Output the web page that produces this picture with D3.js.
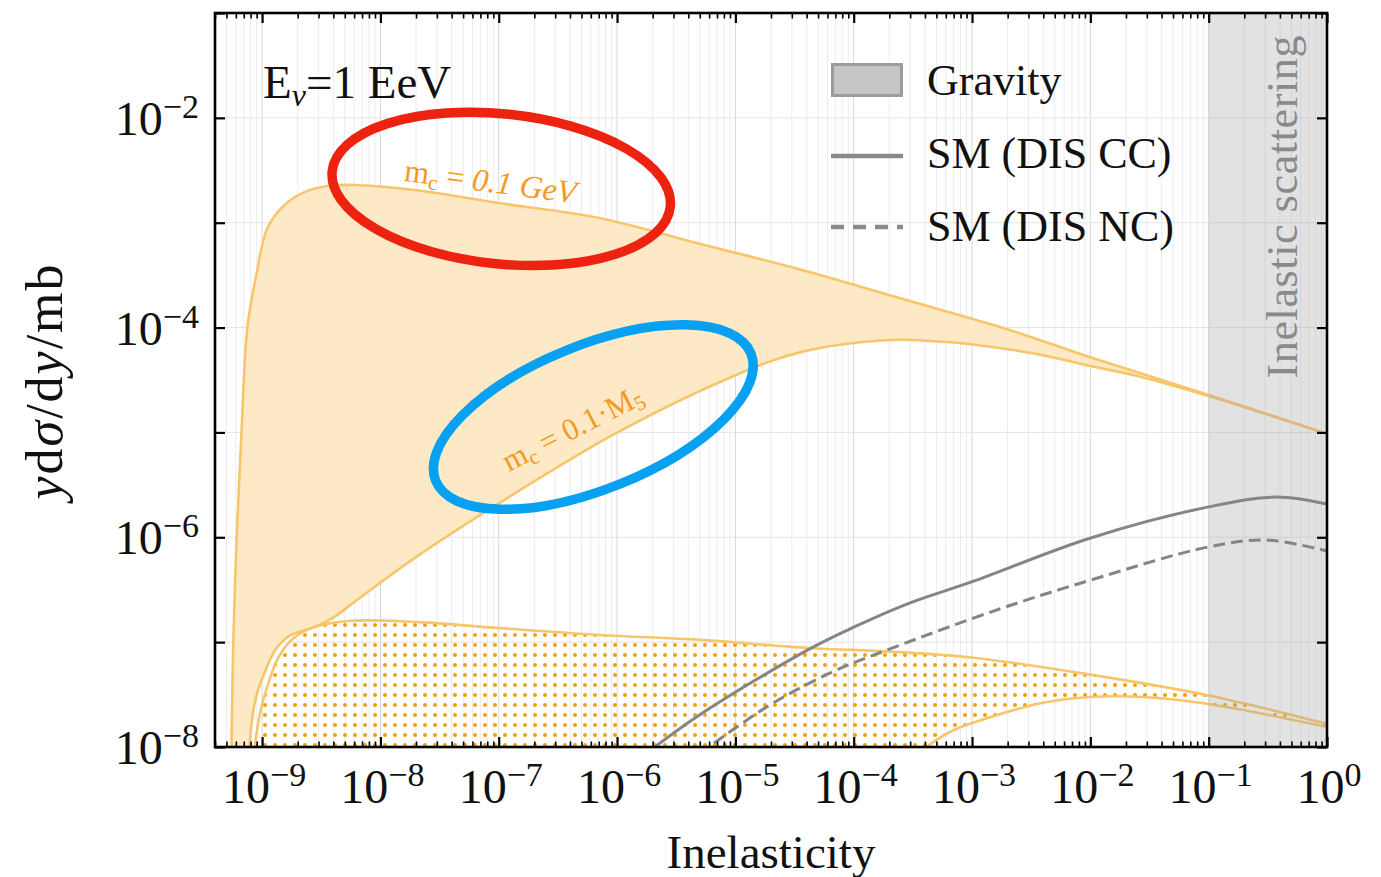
<!DOCTYPE html>
<html>
<head>
<meta charset="utf-8">
<script src="https://cdn.jsdelivr.net/npm/d3@7"></script>
<style>
  body { margin: 0; background: #fff; }
  svg text { font-family: "Liberation Serif", "DejaVu Serif", serif; }
</style>
</head>
<body>
<svg id="chart" width="1381" height="877"></svg>
<script>
// values: [inelasticity, y dsigma/dy in mb]
const gravUpper = [ // m_c = 0.1 GeV
    [5.5e-10, 9.3e-9], [5.7e-10, 9.0e-8], [6.1e-10, 9.8e-7], [6.7e-10, 9.9e-6],
    [7.5e-10, 9.9e-5], [8.95e-10, 3.2e-4], [1.11e-9, 8.9e-4], [1.55e-9, 1.48e-3],
    [2.28e-9, 1.96e-3], [3.56e-9, 2.24e-3], [6.0e-9, 2.29e-3], [1.94e-8, 2.05e-3],
    [1.01e-7, 1.54e-3], [7.1e-7, 1.11e-3], [4.97e-6, 6.3e-4], [3.48e-5, 3.6e-4],
    [2.44e-4, 1.91e-4], [2.07e-3, 9.5e-5], [1.0e-2, 5.2e-5], [0.1, 2.28e-5], [1, 9.7e-6]
];
const gravLower = [ // m_c = 0.1 M5
    [7.8e-10, 9.3e-9], [8.3e-10, 1.98e-8], [9.1e-10, 3.3e-8], [1.07e-9, 5.4e-8],
    [1.29e-9, 8.4e-8], [1.70e-9, 1.15e-7], [2.77e-9, 1.39e-7], [4.08e-9, 1.74e-7],
    [6.0e-9, 2.41e-7], [2.01e-8, 6.5e-7], [1.01e-7, 2.12e-6], [9.9e-7, 9.9e-6],
    [9.4e-6, 3.4e-5], [3.5e-5, 5.8e-5], [2.04e-4, 7.6e-5], [4.8e-4, 7.4e-5],
    [1.01e-3, 6.9e-5], [3.5e-3, 5.6e-5], [1.0e-2, 4.3e-5], [2.5e-2, 3.45e-5],
    [0.1, 2.22e-5], [1, 9.7e-6]
];
const dotUpper = [
    [8.6e-10, 9.3e-9], [9.5e-10, 1.98e-8], [1.11e-9, 3.8e-8], [1.35e-9, 6.9e-8],
    [1.77e-9, 1.05e-7], [2.61e-9, 1.36e-7], [5.3e-9, 1.59e-7], [1.94e-8, 1.56e-7],
    [1.01e-7, 1.36e-7], [7.1e-7, 1.17e-7], [4.97e-6, 1.05e-7], [4.15e-5, 8.8e-8],
    [2.13e-4, 8.1e-8], [1.03e-3, 7.1e-8], [1.0e-2, 4.9e-8], [0.1, 3.1e-8], [1, 1.66e-8]
];
const dotLower = [
    [3.6e-4, 9.0e-9], [6.5e-4, 1.39e-8], [1.2e-3, 1.81e-8], [3.9e-3, 2.63e-8],
    [1.0e-2, 3.0e-8], [2.77e-2, 3.0e-8], [0.1, 2.57e-8], [1, 1.55e-8]
];
const smCC = [
    [1.7e-6, 8.4e-9], [4.97e-6, 2.02e-8], [4.06e-5, 8.4e-8],
    [1.0e-4, 1.39e-7], [2.96e-4, 2.36e-7], [9.9e-4, 3.75e-7], [9.9e-3, 9.8e-7],
    [0.1, 1.95e-6], [0.376, 2.42e-6], [1, 2.07e-6]
];
const smNC = [
    [4.97e-6, 8.6e-9], [1.83e-5, 2.4e-8], [6.6e-5, 5.2e-8], [2.13e-4, 8.8e-8],
    [1.71e-3, 2.07e-7], [1.0e-2, 3.9e-7], [0.1, 8.1e-7], [0.31, 9.4e-7], [1, 7.4e-7]
];
const xDecades = [-9, -8, -7, -6, -5, -4, -3, -2, -1, 0];
const yDecades = [-8, -7, -6, -5, -4, -3, -2, -1];
const yLabelled = [-8, -6, -4, -2];
const inelastic = [0.1, 1];
const legendNames = ["Gravity", "SM (DIS CC)", "SM (DIS NC)"];
const rings = [
    { at: [1.05e-7, 2.1e-3], rx: 170, ry: 75, angle: 6, color: "#ee2211" },
    { at: [6.3e-7, 1.4e-5], rx: 170, ry: 72, angle: -22, color: "#08a0f0" }
];

const box = { left: 215, right: 1327, top: 13, bottom: 747 };
const orange = "#f8c56b", orangeText = "#f39a23", grey = "#858585";

const x = d3.scaleLog().domain([4e-10, 1]).range([box.left, box.right]);
const y = d3.scaleLog().domain([1e-8, 1e-1]).range([box.bottom, box.top]);

const svg = d3.select("#chart");
const defs = svg.append("defs");
defs.append("clipPath").attr("id", "plotclip")
    .append("rect")
    .attr("x", box.left).attr("y", box.top)
    .attr("width", box.right - box.left).attr("height", box.bottom - box.top);

defs.append("pattern").attr("id", "dots")
    .attr("patternUnits", "userSpaceOnUse").attr("width", 10).attr("height", 10)
    .append("circle").attr("cx", 5).attr("cy", 5).attr("r", 2).attr("fill", "#f5a00a");

// grid
const xMinor = d3.range(-10, 1).flatMap(k => d3.range(1, 10).map(m => m * Math.pow(10, k)))
    .filter(v => v >= 4e-10 && v <= 1.0001);
const grid = svg.append("g");
grid.selectAll(".vx").data(xMinor).enter().append("line")
    .attr("x1", d => x(d)).attr("x2", d => x(d))
    .attr("y1", box.top).attr("y2", box.bottom)
    .attr("stroke", d => Math.abs(Math.log10(d) % 1) < 1e-6 ? "#d6d6d6" : "#ececec")
    .attr("stroke-width", 1);
grid.selectAll(".hy").data(yDecades).enter().append("line")
    .attr("x1", box.left).attr("x2", box.right)
    .attr("y1", d => y(Math.pow(10, d))).attr("y2", d => y(Math.pow(10, d)))
    .attr("stroke", "#e4e4e4").attr("stroke-width", 1);

const line = d3.line().x(d => x(d[0])).y(d => y(d[1])).curve(d3.curveCatmullRom.alpha(0.5));
function bandPath(top, bottom) {
    const a = line(top), b = line(bottom.slice().reverse());
    return a + "L" + b.slice(1) + "Z";
}

const plot = svg.append("g").attr("clip-path", "url(#plotclip)");

plot.append("path").attr("d", bandPath(gravUpper, gravLower))
    .attr("fill", "#fde9c6").attr("stroke", "none");
plot.append("path").attr("d", bandPath(dotUpper, dotLower))
    .attr("fill", "url(#dots)").attr("stroke", "none");

[gravUpper, gravLower, dotUpper, dotLower].forEach(c => {
    plot.append("path").attr("d", line(c))
        .attr("fill", "none").attr("stroke", orange).attr("stroke-width", 2.6);
});

plot.append("rect")
    .attr("x", x(inelastic[0])).attr("width", x(inelastic[1]) - x(inelastic[0]))
    .attr("y", box.top).attr("height", box.bottom - box.top)
    .attr("fill", "#9e9e9e").attr("opacity", 0.3);

plot.append("path").attr("d", line(smCC))
    .attr("fill", "none").attr("stroke", grey).attr("stroke-width", 3);
plot.append("path").attr("d", line(smNC))
    .attr("fill", "none").attr("stroke", grey).attr("stroke-width", 3)
    .attr("stroke-dasharray", "12,6");

svg.append("text")
    .attr("transform", "translate(1297,207) rotate(-90)")
    .attr("text-anchor", "middle").attr("font-size", 44)
    .attr("fill", "#8a8a8a").attr("textLength", 343).attr("lengthAdjust", "spacing")
    .text("Inelastic scattering");

// curve labels
const l1 = svg.append("text")
    .attr("transform", `translate(${x(8.3e-8)},${y(1.96e-3)}) rotate(7.5)`)
    .attr("text-anchor", "middle").attr("font-size", 32).attr("fill", orangeText);
l1.append("tspan").text("m");
l1.append("tspan").attr("font-size", 21).attr("dy", 5).text("c");
l1.append("tspan").attr("dy", -5).text(" = ");
l1.append("tspan").attr("font-style", "italic").text("0.1 GeV");

const l2 = svg.append("text")
    .attr("transform", `translate(${x(4.6e-7)},${y(9.0e-6)}) rotate(-27)`)
    .attr("text-anchor", "middle").attr("font-size", 31).attr("fill", orangeText);
l2.append("tspan").text("m");
l2.append("tspan").attr("font-size", 21).attr("dy", 5).text("c");
l2.append("tspan").attr("dy", -5).text(" = 0.1·M");
l2.append("tspan").attr("font-size", 21).attr("dy", 5).text("5");

// hand-drawn rings
svg.selectAll(".ring").data(rings).enter().append("ellipse")
    .attr("transform", d => `translate(${x(d.at[0])},${y(d.at[1])}) rotate(${d.angle})`)
    .attr("rx", d => d.rx).attr("ry", d => d.ry)
    .attr("fill", "none").attr("stroke", d => d.color).attr("stroke-width", 9.5);

// frame and ticks
const xMajor = xDecades.map(k => Math.pow(10, k));
const xMinorOnly = xMinor.filter(v => !xMajor.some(m => Math.abs(v / m - 1) < 1e-6));
const yMajor = yDecades.map(k => Math.pow(10, k));
const noLabel = () => "";

const axes = [
    [d3.axisBottom(x).tickValues(xMajor).tickSize(-10), `translate(0,${box.bottom})`, 2.2],
    [d3.axisBottom(x).tickValues(xMinorOnly).tickSize(-5.5), `translate(0,${box.bottom})`, 1.6],
    [d3.axisTop(x).tickValues(xMajor).tickSize(-10), `translate(0,${box.top})`, 2.2],
    [d3.axisTop(x).tickValues(xMinorOnly).tickSize(-5.5), `translate(0,${box.top})`, 1.6],
    [d3.axisLeft(y).tickValues(yMajor).tickSize(-10), `translate(${box.left},0)`, 2.2],
    [d3.axisRight(y).tickValues(yMajor).tickSize(-10), `translate(${box.right},0)`, 2.2]
];
axes.forEach(([ax, tr, w]) => {
    const g = svg.append("g").attr("transform", tr).call(ax.tickFormat(noLabel));
    g.select(".domain").remove();
    g.selectAll(".tick line").attr("stroke", "#000").attr("stroke-width", w);
});

svg.append("rect")
    .attr("x", box.left).attr("y", box.top)
    .attr("width", box.right - box.left).attr("height", box.bottom - box.top)
    .attr("fill", "none").attr("stroke", "#000").attr("stroke-width", 2.6);

// tick labels
xDecades.forEach(k => {
    const t = svg.append("text")
        .attr("x", x(Math.pow(10, k)) + 2).attr("y", 803)
        .attr("text-anchor", "middle").attr("font-size", 48).attr("fill", "#111");
    t.append("tspan").text("10");
    t.append("tspan").attr("dy", -17).attr("font-size", 34).text(k === 0 ? "0" : "\u2212" + (-k));
});
yLabelled.forEach(k => {
    const t = svg.append("text")
        .attr("x", 199).attr("y", y(Math.pow(10, k)) + 17)
        .attr("text-anchor", "end").attr("font-size", 48).attr("fill", "#111");
    t.append("tspan").text("10");
    t.append("tspan").attr("dy", -17).attr("font-size", 34).text("\u2212" + (-k));
});

// axis titles
svg.append("text")
    .attr("x", (box.left + box.right) / 2).attr("y", 868)
    .attr("text-anchor", "middle").attr("font-size", 47).attr("fill", "#111")
    .text("Inelasticity");

const yl = svg.append("text")
    .attr("transform", "translate(62,382) rotate(-90)")
    .attr("text-anchor", "middle").attr("font-size", 52).attr("fill", "#111")
    .attr("textLength", 235).attr("lengthAdjust", "spacing");
yl.append("tspan").attr("font-style", "italic").text("y");
yl.append("tspan").text("d");
yl.append("tspan").attr("font-style", "italic").text("σ");
yl.append("tspan").text("/d");
yl.append("tspan").attr("font-style", "italic").text("y");
yl.append("tspan").text("/mb");

const ev = svg.append("text").attr("x", 263).attr("y", 98)
    .attr("font-size", 47).attr("fill", "#111");
ev.append("tspan").text("E");
ev.append("tspan").attr("font-size", 32).attr("font-style", "italic").attr("dy", 8).text("ν");
ev.append("tspan").attr("dy", -8).text("=1 EeV");

// legend
const lg = svg.append("g");
lg.append("rect").attr("x", 832.5).attr("y", 64.5).attr("width", 69).attr("height", 31)
    .attr("fill", "#c6c6c6").attr("stroke", "#9c9c9c").attr("stroke-width", 3);
lg.append("line").attr("x1", 831).attr("x2", 903).attr("y1", 156).attr("y2", 156)
    .attr("stroke", "#8a8a8a").attr("stroke-width", 4.5);
lg.append("line").attr("x1", 831).attr("x2", 903).attr("y1", 227).attr("y2", 227)
    .attr("stroke", "#8a8a8a").attr("stroke-width", 4.5).attr("stroke-dasharray", "13,9");
lg.selectAll(".lt").data(legendNames).enter().append("text")
    .attr("x", 927).attr("y", (d, i) => 95 + i * 73)
    .attr("font-size", 44).attr("fill", "#111")
    .text(d => d);
</script>
</body>
</html>
